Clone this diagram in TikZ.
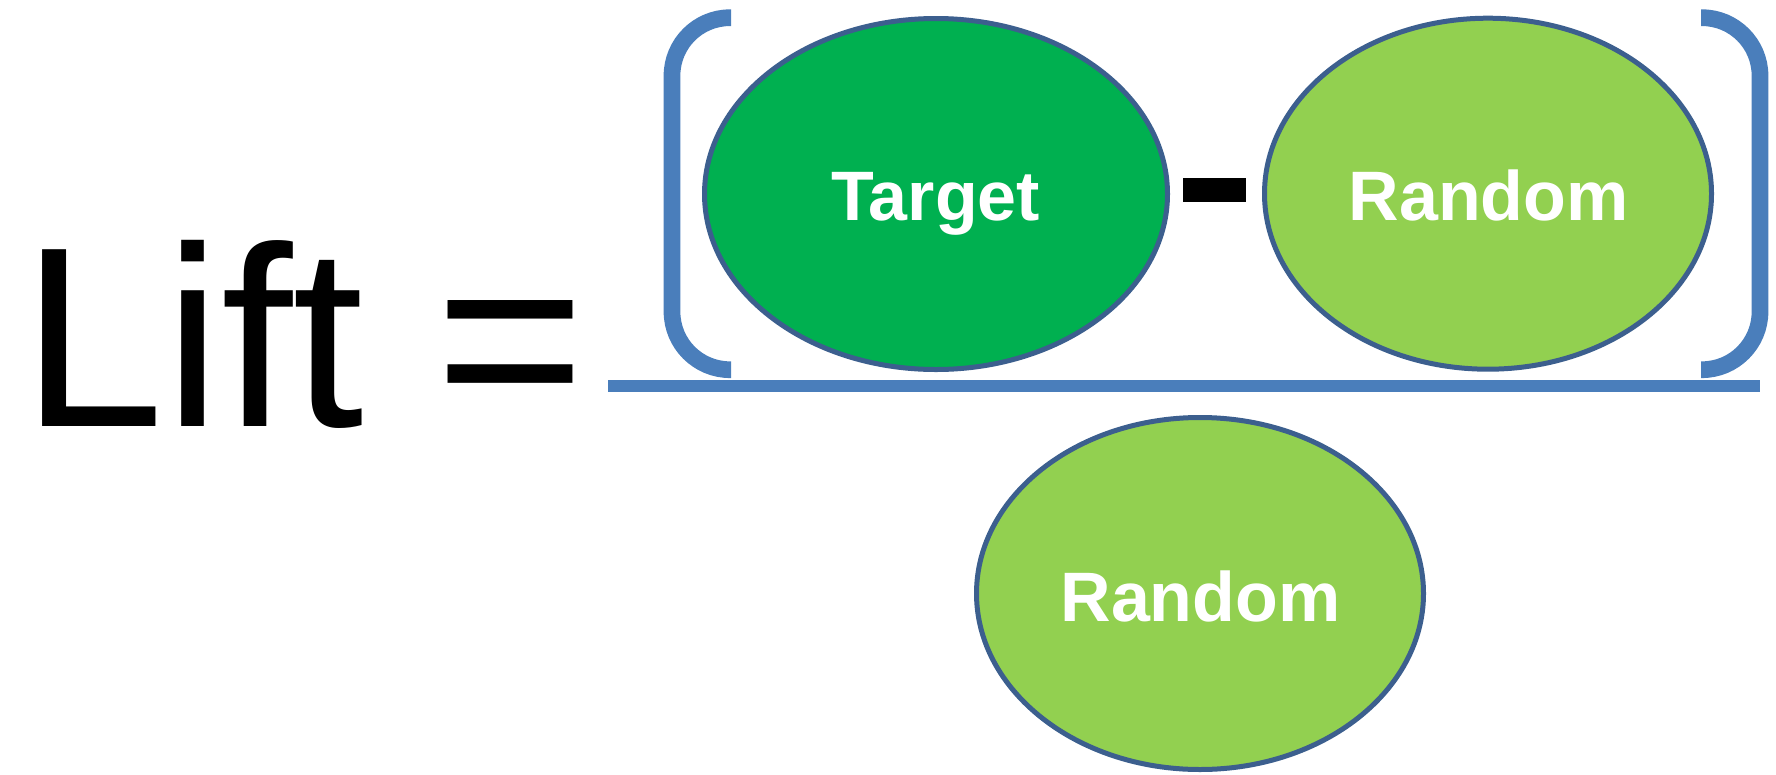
\documentclass[tikz,border=0pt]{standalone}
\usepackage{fontspec}
\setmainfont{Liberation Sans}
\usetikzlibrary{shapes.geometric}
\definecolor{bracketblue}{HTML}{4A7EBB}
\definecolor{rimblue}{HTML}{3C5F8E}
\definecolor{targetgreen}{HTML}{00B050}
\definecolor{randomgreen}{HTML}{92D050}
\tikzset{
  blob/.style={ellipse, draw=rimblue, line width=5pt, inner sep=0pt},
  blobtext/.style={text=white, font=\fontsize{70}{70}\selectfont\bfseries, inner sep=0pt, anchor=base},
  bar/.style={draw=bracketblue, line width=16.7pt},
}
\begin{document}
\begin{tikzpicture}[x=1pt, y=-1pt]
  \useasboundingbox (0,0) rectangle (1776,774);

  % left-hand side of the formula
  \node[anchor=base west, inner sep=0pt, font=\fontsize{257}{257}\selectfont] (lhs)
    at (21,426) {Lift =};

  % numerator terms
  \node[blob, fill=targetgreen, minimum width=463pt, minimum height=351pt] (target) at (936,194) {};
  \node[blob, fill=randomgreen, minimum width=447pt, minimum height=351pt] (rndtop) at (1488,193.7) {};
  \node[blobtext] (ttarget) at (935.7,220) {Target};
  \node[blobtext] (trndtop) at (1488.7,220) {Random};

  % minus sign between the terms
  \fill (1183,178.3) rectangle (1246,201.7);

  % brackets around the numerator
  \draw[bar, rounded corners=58pt] (731,17.7) -- (672,17.7) -- (672,369.7) -- (731,369.7);
  \draw[bar, rounded corners=58pt] (1701,17.7) -- (1760,17.7) -- (1760,369.7) -- (1701,369.7);

  % fraction line
  \draw[draw=bracketblue, line width=12pt] (608,386) -- (1760,386);

  % denominator
  \node[blob, fill=randomgreen, minimum width=447pt, minimum height=352pt] (rndbot) at (1200,593.5) {};
  \node[blobtext] (trndbot) at (1200.5,621) {Random};
\end{tikzpicture}
\end{document}
